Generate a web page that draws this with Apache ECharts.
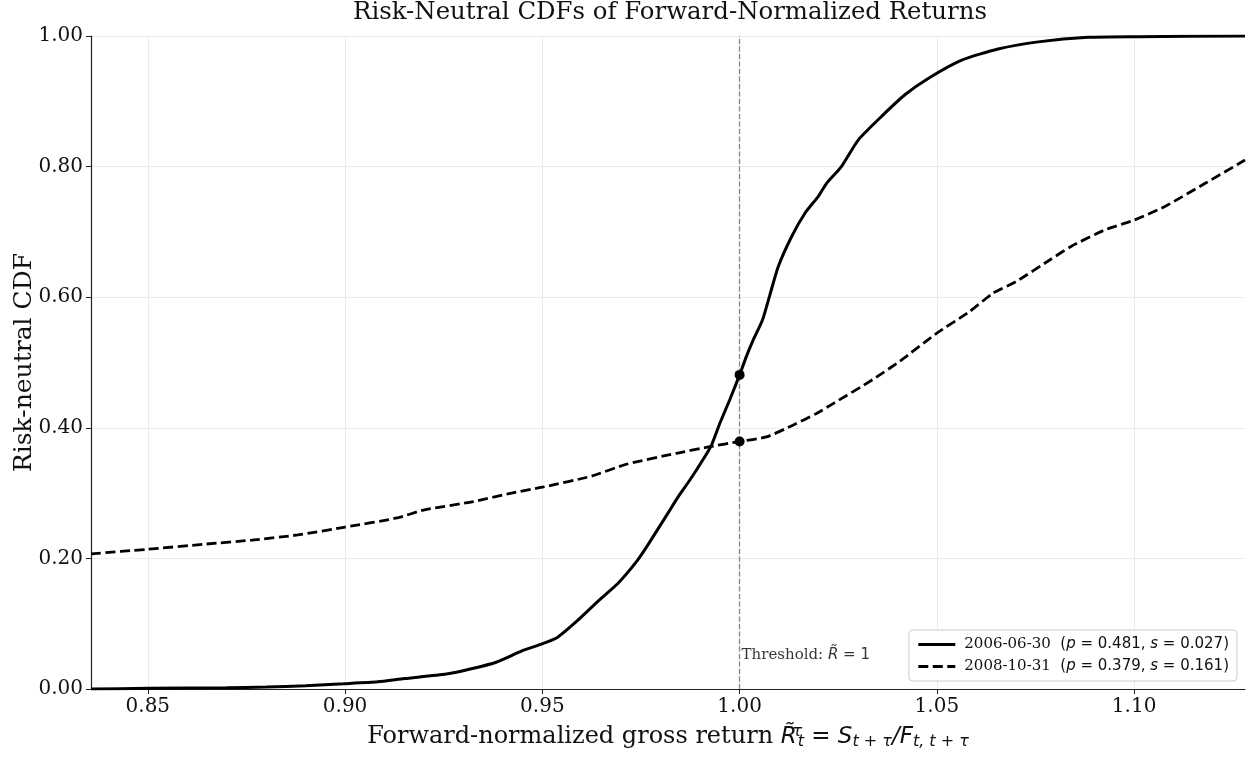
<!DOCTYPE html>
<html>
<head>
<meta charset="utf-8">
<script src="https://cdn.jsdelivr.net/npm/echarts@6/dist/echarts.min.js"></script>
<style>html,body{margin:0;padding:0;background:#fff;}#c{width:1250px;height:759px;}</style>
</head>
<body>
<div id="c"></div>
<script>
// ---- data ----
const seriesNames = ['2006-06-30', '2008-10-31'];
const pValues = ['0.481', '0.379'];
const sValues = ['0.027', '0.161'];

const solidX = [0.8356, 0.85, 0.87, 0.88, 0.89, 0.8996, 0.9083, 0.915, 0.9257, 0.932, 0.9383, 0.9451, 0.9499, 0.9538, 0.9586, 0.9644, 0.9692, 0.9741, 0.977, 0.9818, 0.9845, 0.9874, 0.9907, 0.9929, 0.995, 0.9975, 1.0, 1.0017, 1.0034, 1.0058, 1.0077, 1.0098, 1.0132, 1.0166, 1.0199, 1.022, 1.0258, 1.0301, 1.036, 1.0419, 1.0478, 1.0563, 1.0655, 1.0757, 1.0883, 1.101, 1.1281];
const solidY = [0.000, 0.001, 0.002, 0.003, 0.005, 0.008, 0.011, 0.016, 0.023, 0.031, 0.041, 0.059, 0.069, 0.079, 0.103, 0.136, 0.162, 0.197, 0.223, 0.269, 0.295, 0.320, 0.351, 0.374, 0.407, 0.443, 0.481, 0.509, 0.534, 0.565, 0.604, 0.647, 0.693, 0.729, 0.754, 0.774, 0.800, 0.841, 0.877, 0.910, 0.935, 0.963, 0.980, 0.991, 0.998, 0.999, 1.000];

const dashedX = [0.8356, 0.85, 0.8648, 0.8764, 0.888, 0.90, 0.9132, 0.9199, 0.9325, 0.9422, 0.95, 0.9625, 0.9712, 0.984, 0.9924, 1.0, 1.0068, 1.0135, 1.0195, 1.0237, 1.0338, 1.0406, 1.05, 1.0583, 1.0642, 1.0701, 1.0786, 1.0841, 1.0926, 1.10, 1.1078, 1.1179, 1.1281];
const dashedY = [0.207, 0.214, 0.222, 0.228, 0.236, 0.248, 0.262, 0.274, 0.287, 0.300, 0.309, 0.326, 0.344, 0.361, 0.371, 0.379, 0.386, 0.404, 0.422, 0.437, 0.474, 0.502, 0.545, 0.578, 0.606, 0.624, 0.657, 0.678, 0.703, 0.718, 0.739, 0.774, 0.810];

const thresholdX = 1.0;
const thresholdPoints = [[1.0, 0.481], [1.0, 0.379]];
const thresholdLabelY = 0.052;

const xTicks = [0.85, 0.90, 0.95, 1.00, 1.05, 1.10];
const yTicks = [0.0, 0.2, 0.4, 0.6, 0.8, 1.0];
const xMin = 0.8356, xMax = 1.1281;

// ---- chart ----
const SERIF = 'DejaVu Serif';
const SANS = 'DejaVu Sans';
const zip = (a, b) => a.map((v, i) => [v, b[i]]);

const chart = echarts.init(document.getElementById('c'), null, {renderer: 'canvas'});

const legendRich = {
  d: {fontFamily: SERIF, fontSize: 15, color: '#111'},
  m: {fontFamily: SANS, fontSize: 15, color: '#111'},
  i: {fontFamily: SANS, fontSize: 15, fontStyle: 'italic', color: '#111'}
};

chart.setOption({
  animation: false,
  backgroundColor: '#fff',
  title: {
    text: 'Risk-Neutral CDFs of Forward-Normalized Returns',
    left: 665, top: -4, textAlign: 'center',
    textStyle: {fontFamily: SERIF, fontSize: 24.4, fontWeight: 'normal', color: '#111'}
  },
  grid: {left: 91, right: 5, top: 36, bottom: 70, containLabel: false, outerBoundsMode: 'none'},
  legend: {
    right: 13, bottom: 78, orient: 'vertical',
    itemWidth: 37, itemHeight: 16, itemGap: 7,
    padding: [7, 8, 7, 8],
    borderColor: '#cccccc', borderWidth: 1, borderRadius: 4,
    backgroundColor: '#fff',
    data: seriesNames,
    itemStyle: {opacity: 0, borderWidth: 0},
    lineStyle: {width: 2.8},
    formatter: function (name) {
      const k = seriesNames.indexOf(name);
      return '{d|' + name + '  }{m|(}{i|p}{m| = ' + pValues[k] + ', }{i|s}{m| = ' + sValues[k] + ')}';
    },
    textStyle: {rich: legendRich, padding: [0, 0, 0, 4]}
  },
  xAxis: {
    type: 'value', min: xMin, max: xMax,
    name: '{s|Forward-normalized gross return }{mi|R\u0303}{sup|τ}{sub|t}{m| = }{mi|S}{sub|t + τ}{mi|/F}{sub|t, t + τ}',
    nameLocation: 'middle', nameGap: 35,
    nameTextStyle: {
      rich: {
        s: {fontFamily: SERIF, fontSize: 24, color: '#111'},
        m: {fontFamily: SANS, fontSize: 23, color: '#111'},
        mi: {fontFamily: SANS, fontSize: 23, fontStyle: 'italic', color: '#111'},
        sup: {fontFamily: SANS, fontSize: 16, fontStyle: 'italic', color: '#111', verticalAlign: 'top', width: 1, align: 'left', padding: [0, 0, 6, 0]},
        sub: {fontFamily: SANS, fontSize: 16, fontStyle: 'italic', color: '#111', verticalAlign: 'bottom', padding: [10, 0, 0, 0]}
      }
    },
    axisLine: {show: true, lineStyle: {color: '#222', width: 1.2}},
    axisTick: {show: true, inside: false, length: 5, customValues: xTicks, lineStyle: {color: '#222'}},
    axisLabel: {customValues: xTicks, margin: 8, fontFamily: SERIF, fontSize: 20, color: '#111',
      formatter: v => v.toFixed(2)},
    splitLine: {show: true, lineStyle: {color: '#ebebeb', width: 1}}
  },
  yAxis: {
    type: 'value', min: 0, max: 1, interval: 0.2,
    name: 'Risk-neutral CDF', nameLocation: 'middle', nameGap: 54, nameMoveOverlap: false,
    nameTextStyle: {fontFamily: SERIF, fontSize: 25, color: '#111'},
    axisLine: {show: true, lineStyle: {color: '#222', width: 1.2}},
    axisTick: {show: true, inside: false, length: 5, customValues: yTicks, lineStyle: {color: '#222'}},
    axisLabel: {customValues: yTicks, margin: 8, fontFamily: SERIF, fontSize: 20, color: '#111',
      formatter: v => v.toFixed(2)},
    splitLine: {show: true, lineStyle: {color: '#ebebeb', width: 1}}
  },
  series: [
    {
      name: seriesNames[0], type: 'line', data: zip(solidX, solidY),
      showSymbol: false, symbol: 'none', smooth: 0.2, z: 4,
      lineStyle: {color: '#000', width: 3},
      itemStyle: {color: '#000'},
      markLine: {
        silent: true, symbol: 'none', animation: false,
        label: {show: false},
        lineStyle: {color: '#888', width: 1.3, type: [5, 2.5]},
        data: [{xAxis: thresholdX}]
      }
    },
    {
      name: seriesNames[1], type: 'line', data: zip(dashedX, dashedY),
      showSymbol: false, symbol: 'none', smooth: 0.2, z: 3,
      lineStyle: {color: '#000', width: 2.8, type: [10, 4.5]},
      itemStyle: {color: '#000'}
    },
    {
      name: 'points', type: 'scatter', data: thresholdPoints,
      symbol: 'circle', symbolSize: 10, z: 6,
      itemStyle: {color: '#000', opacity: 1}
    },
    {
      name: 'thresholdLabel', type: 'scatter', data: [[thresholdX, thresholdLabelY]],
      symbolSize: 0, z: 6, silent: true,
      label: {
        show: true, position: 'right', distance: 2,
        formatter: '{s|Threshold: }{mi|R\u0303}{m| = 1}',
        rich: {
          s: {fontFamily: SERIF, fontSize: 15, color: '#000'},
          m: {fontFamily: SANS, fontSize: 15, color: '#000'},
          mi: {fontFamily: SANS, fontSize: 15, fontStyle: 'italic', color: '#000'}
        }
      }
    }
  ]
});
</script>
</body>
</html>
